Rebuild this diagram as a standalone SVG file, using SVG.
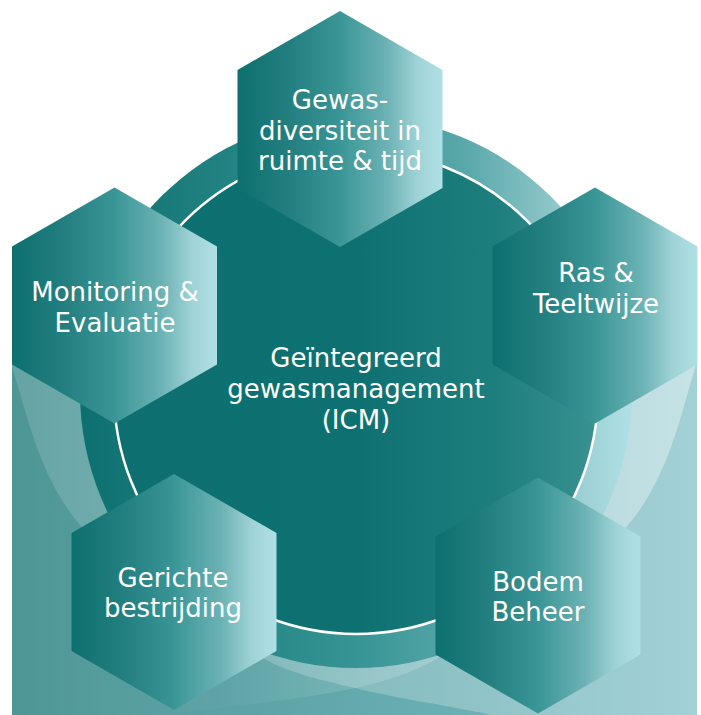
<svg xmlns="http://www.w3.org/2000/svg" width="701" height="715" viewBox="0 0 701 715">
<defs>
<linearGradient id="bgGrad" gradientUnits="userSpaceOnUse" x1="12" y1="0" x2="697" y2="0">
<stop offset="0" stop-color="#4e9696"/><stop offset="1" stop-color="#7abdc4"/>
</linearGradient>
<linearGradient id="ovL" gradientUnits="userSpaceOnUse" x1="0" y1="0" x2="701" y2="0">
<stop offset="0" stop-color="#ffffff" stop-opacity="0.13"/><stop offset="1" stop-color="#ffffff" stop-opacity="0.30"/>
</linearGradient>
<linearGradient id="ovR" gradientUnits="userSpaceOnUse" x1="0" y1="0" x2="701" y2="0">
<stop offset="0" stop-color="#ffffff" stop-opacity="0"/><stop offset="0.32" stop-color="#ffffff" stop-opacity="0.02"/><stop offset="1" stop-color="#ffffff" stop-opacity="0.40"/>
</linearGradient>
<linearGradient id="ringGrad" gradientUnits="userSpaceOnUse" x1="80" y1="0" x2="632" y2="0">
<stop offset="0" stop-color="#0d6f6f"/><stop offset="0.5" stop-color="#369494"/><stop offset="0.7" stop-color="#5aa8aa"/><stop offset="0.88" stop-color="#95cbce"/><stop offset="1" stop-color="#b0e0e5"/>
</linearGradient>
<linearGradient id="discGrad" gradientUnits="userSpaceOnUse" x1="114" y1="0" x2="598" y2="0">
<stop offset="0" stop-color="#0d6f6f"/><stop offset="0.5" stop-color="#0e7171"/><stop offset="0.8" stop-color="#1f7f7f"/><stop offset="1" stop-color="#3a9292"/>
</linearGradient>
<linearGradient id="hexGrad" x1="0" y1="0" x2="1" y2="0">
<stop offset="0" stop-color="#0d6f6f"/><stop offset="0.25" stop-color="#237f7f"/><stop offset="0.5" stop-color="#3a9696"/><stop offset="0.73" stop-color="#6cb2b4"/><stop offset="0.88" stop-color="#9fd3d7"/><stop offset="1" stop-color="#b0e0e5"/>
</linearGradient>
<clipPath id="bgClip"><rect x="12" y="300" width="685" height="415"/></clipPath>
<style>
.hex{fill:url(#hexGrad);}
.lbl{font-family:"DejaVu Sans","Verdana",sans-serif;font-size:26px;fill:#ffffff;text-anchor:middle;}
</style>
</defs>
<g id="background">
<rect x="12" y="300" width="685" height="415" fill="url(#bgGrad)"/>
<g clip-path="url(#bgClip)">
<path fill="url(#ovL)" d="M 0 230 L 8 330 L 12 367 C 25.3 406.2, 38.2 476.5, 80 525 C 129 581.8, 198.5 619.8, 263 658 C 290.5 674.3, 324 680.2, 355 688 C 396.7 698.4, 440.9 704.4, 483 713 L 540 730 L 701 730 L 701 230 Z"/>
<path fill="url(#ovR)" d="M 701 230 L 696 365 C 682.7 406.2, 669.8 476.5, 628 525 C 576.1 584.8, 504.2 618.7, 438 658 C 413 672.8, 383.4 682, 355 688 C 297.3 700.3, 238.4 704.7, 180 713 L 100 730 L 0 730 L 0 230 Z"/>
</g>
<circle cx="356" cy="392" r="276" fill="url(#ringGrad)"/>
</g>
<g id="connectors"></g>
<g id="center">
<circle cx="356" cy="392" r="242" fill="url(#discGrad)" stroke="#ffffff" stroke-width="2.5"/>
<text class="lbl"><tspan x="356" y="367">Geïntegreerd</tspan><tspan x="356" y="398">gewasmanagement</tspan><tspan x="356" y="429">(ICM)</tspan></text>
</g>
<g id="gewas">
<polygon class="hex" points="340,11 442.5,70 442.5,188 340,247 237.5,188 237.5,70"/>
<text class="lbl"><tspan x="340" y="109">Gewas-</tspan><tspan x="340" y="140">diversiteit in</tspan><tspan x="340" y="170">ruimte &amp; tijd</tspan></text>
</g>
<g id="monitoring">
<polygon class="hex" points="114.5,187.5 217,246.5 217,364.5 114.5,423.5 12,364.5 12,246.5"/>
<text class="lbl"><tspan x="115" y="301">Monitoring &amp;</tspan><tspan x="115" y="332">Evaluatie</tspan></text>
</g>
<g id="ras">
<polygon class="hex" points="595,187.5 697.5,246.5 697.5,364.5 595,423.5 492.5,364.5 492.5,246.5"/>
<text class="lbl"><tspan x="596" y="282">Ras &amp;</tspan><tspan x="596" y="313">Teeltwijze</tspan></text>
</g>
<g id="gericht">
<polygon class="hex" points="174,474 276.5,533 276.5,651 174,710 71.5,651 71.5,533"/>
<text class="lbl"><tspan x="173" y="587">Gerichte</tspan><tspan x="173" y="617">bestrijding</tspan></text>
</g>
<g id="bodem">
<polygon class="hex" points="538,477.5 640.5,536.5 640.5,654.5 538,713.5 435.5,654.5 435.5,536.5"/>
<text class="lbl"><tspan x="538" y="591">Bodem</tspan><tspan x="538" y="621">Beheer</tspan></text>
</g>
</svg>
